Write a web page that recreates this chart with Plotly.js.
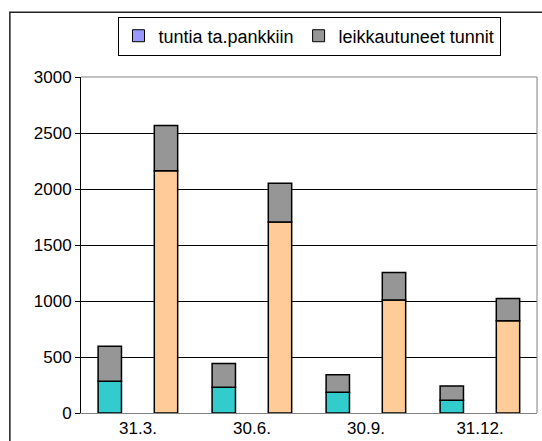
<!DOCTYPE html>
<html>
<head>
<meta charset="utf-8">
<script src="https://cdn.plot.ly/plotly-3.0.1.min.js"></script>
<style>
html,body{margin:0;padding:0;background:#fff;}
#chart{width:542px;height:441px;}
</style>
</head>
<body>
<div id="chart"></div>
<script>
// Data
var categories = ["31.3.", "30.6.", "30.9.", "31.12."];
var bankLeft   = [283, 229, 185, 113];   // cyan bottoms (left bars)
var cutLeft    = [312, 214, 157, 128];   // gray tops (left bars)
var bankRight  = [2163, 1705, 1010, 824]; // peach bottoms (right bars)
var cutRight   = [405, 346, 245, 199];   // gray tops (right bars)
var legendNames = ["tuntia ta.pankkiin", "leikkautuneet tunnit"];
var yTicks = [0, 500, 1000, 1500, 2000, 2500, 3000];

var font = "Liberation Sans, Arial, sans-serif";
var outline = {color: "#000", width: 1.5};
var bw = 0.205, offL = -0.35, offR = 0.143;

var traces = [
  {type: "bar", x: categories, y: bankLeft, offset: offL, width: bw,
   marker: {color: "#33CCCC", line: outline}, showlegend: false, hoverinfo: "y"},
  {type: "bar", x: categories, y: cutLeft, base: bankLeft, offset: offL, width: bw,
   marker: {color: "#969696", line: outline}, showlegend: false, hoverinfo: "y"},
  {type: "bar", x: categories, y: bankRight, offset: offR, width: bw,
   marker: {color: "#FFCC99", line: outline}, showlegend: false, hoverinfo: "y"},
  {type: "bar", x: categories, y: cutRight, base: bankRight, offset: offR, width: bw,
   marker: {color: "#969696", line: outline}, showlegend: false, hoverinfo: "y"},
  // legend-only entries
  {type: "bar", x: [categories[0]], y: [null], name: legendNames[0],
   marker: {color: "#9999FF", line: {color: "#000", width: 1}}},
  {type: "bar", x: [categories[0]], y: [null], name: legendNames[1],
   marker: {color: "#969696", line: {color: "#000", width: 1}}}
];

var layout = {
  width: 542, height: 441,
  margin: {l: 81, r: 5, t: 77, b: 28, pad: 0},
  paper_bgcolor: "#fff", plot_bgcolor: "#fff",
  barmode: "overlay",
  font: {family: font, size: 17, color: "#000"},
  showlegend: true,
  legend: {
    orientation: "h", x: 0.5, xanchor: "center", y: 1.18, yanchor: "top",
    bordercolor: "#000", borderwidth: 1, bgcolor: "#fff",
    font: {family: font, size: 18, color: "#000"},
    itemwidth: 30, traceorder: "normal"
  },
  xaxis: {
    type: "category", showgrid: false, showline: true, linecolor: "#808080", linewidth: 1,
    ticks: "", tickfont: {family: font, size: 17}, fixedrange: true
  },
  yaxis: {
    range: [0, 3000], tickvals: yTicks, ticktext: yTicks.map(String),
    showgrid: true, gridcolor: "#000", gridwidth: 1, zeroline: false,
    showline: true, linecolor: "#000", linewidth: 1,
    ticks: "outside", ticklen: 5, tickcolor: "#000",
    tickfont: {family: font, size: 17}, fixedrange: true
  },
  shapes: [
    {type: "line", xref: "paper", yref: "paper", x0: 0, x1: 1, y0: 1, y1: 1,
     line: {color: "#808080", width: 1}, layer: "above"},
    {type: "line", xref: "paper", yref: "paper", x0: 1, x1: 1, y0: 0, y1: 1,
     line: {color: "#808080", width: 1}, layer: "above"},
    {type: "rect", xref: "paper", yref: "paper", x0: -0.156, x1: 1.3, y0: -0.5, y1: 1.193,
     line: {color: "#222", width: 1.5}, layer: "below"}
  ]
};

Plotly.newPlot("chart", traces, layout, {displayModeBar: false, staticPlot: true});
</script>
</body>
</html>
